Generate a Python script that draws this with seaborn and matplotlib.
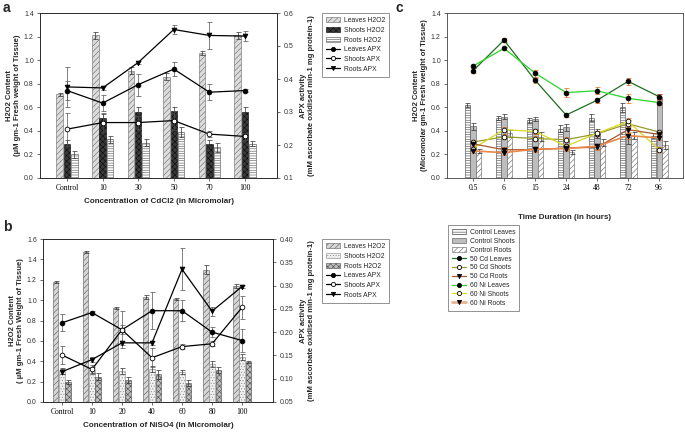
import numpy as np
import pandas as pd
import matplotlib
matplotlib.use("Agg")
import matplotlib.pyplot as plt
import seaborn as sns
from matplotlib.patches import Patch
from matplotlib.lines import Line2D

# ---------------- Panel a (CdCl2) ----------------
cats_a = ["Control", "10", "30", "50", "70", "100"]
a_leaves_h2o2 = [0.71, 1.21, 0.91, 0.86, 1.06, 1.21]
a_leaves_h2o2_err = [0.015, 0.03, 0.03, 0.03, 0.02, 0.03]
a_shoots_h2o2 = [0.29, 0.51, 0.56, 0.57, 0.29, 0.56]
a_shoots_h2o2_err = [0.03, 0.03, 0.04, 0.03, 0.03, 0.04]
a_roots_h2o2 = [0.20, 0.33, 0.30, 0.39, 0.26, 0.29]
a_roots_h2o2_err = [0.03, 0.03, 0.03, 0.04, 0.04, 0.02]
a_leaves_apx = [0.365, 0.327, 0.383, 0.43, 0.36, 0.365]
a_leaves_apx_err = [0.03, 0.025, 0.033, 0.022, 0.024, 0.005]
a_shoots_apx = [0.248, 0.268, 0.268, 0.274, 0.233, 0.226]
a_shoots_apx_err = [0.05, 0.03, 0.02, 0.03, 0.01, 0.01]
a_roots_apx = [0.376, 0.373, 0.45, 0.55, 0.532, 0.53]
a_roots_apx_err = [0.06, 0.005, 0.005, 0.015, 0.04, 0.015]

# ---------------- Panel b (NiSO4) ----------------
cats_b = ["Control", "10", "20", "40", "60", "80", "100"]
b_leaves_h2o2 = [1.18, 1.47, 0.92, 1.035, 1.01, 1.30, 1.14]
b_leaves_h2o2_err = [0.01, 0.01, 0.01, 0.02, 0.01, 0.04, 0.02]
b_shoots_h2o2 = [0.30, 0.31, 0.30, 0.32, 0.29, 0.37, 0.44]
b_shoots_h2o2_err = [0.03, 0.03, 0.03, 0.03, 0.02, 0.03, 0.03]
b_roots_h2o2 = [0.20, 0.25, 0.22, 0.27, 0.19, 0.31, 0.39]
b_roots_h2o2_err = [0.02, 0.03, 0.03, 0.04, 0.03, 0.03, 0.01]
b_leaves_apx = [0.22, 0.242, 0.205, 0.246, 0.246, 0.20, 0.182]
b_leaves_apx_err = [0.018, 0.003, 0.01, 0.04, 0.022, 0.01, 0.025]
b_shoots_apx = [0.151, 0.12, 0.205, 0.145, 0.169, 0.175, 0.253]
b_shoots_apx_err = [0.02, 0.01, 0.04, 0.02, 0.005, 0.005, 0.025]
b_roots_apx = [0.115, 0.141, 0.177, 0.177, 0.335, 0.245, 0.298]
b_roots_apx_err = [0.005, 0.005, 0.005, 0.005, 0.045, 0.01, 0.003]

# ---------------- Panel c (time course) ----------------
cats_c = ["0.5", "6", "15", "24", "48", "72", "96"]
c_ctrl_leaves = [0.62, 0.51, 0.49, 0.42, 0.51, 0.60, 0.36]
c_ctrl_leaves_err = [0.02, 0.02, 0.02, 0.03, 0.03, 0.04, 0.02]
c_ctrl_shoots = [0.44, 0.52, 0.50, 0.43, 0.38, 0.35, 0.69]
c_ctrl_shoots_err = [0.03, 0.02, 0.02, 0.03, 0.04, 0.06, 0.02]
c_ctrl_roots = [0.23, 0.38, 0.35, 0.22, 0.30, 0.36, 0.28]
c_ctrl_roots_err = [0.02, 0.03, 0.04, 0.02, 0.03, 0.03, 0.03]
c_cd_leaves = [0.91, 1.17, 0.83, 0.534, 0.66, 0.82, 0.69]
c_cd_shoots = [0.305, 0.35, 0.335, 0.325, 0.375, 0.46, 0.39]
c_cd_roots = [0.29, 0.24, 0.24, 0.255, 0.26, 0.41, 0.37]
c_ni_leaves = [0.95, 1.10, 0.89, 0.725, 0.74, 0.676, 0.64]
c_ni_shoots = [0.25, 0.41, 0.395, 0.27, 0.38, 0.48, 0.24]
c_ni_roots = [0.23, 0.215, 0.245, 0.25, 0.27, 0.36, 0.34]
c_cd_leaves_err = [0.02, 0.02, 0.02, 0.02, 0.02, 0.03, 0.02]
c_ni_leaves_err = [0.02, 0.01, 0.03, 0.035, 0.03, 0.04, 0.02]
c_small_err = [0.02, 0.02, 0.02, 0.02, 0.02, 0.03, 0.02]

sns.set_style("ticks")
plt.rcParams["font.family"] = ["Liberation Sans", "DejaVu Sans"]
plt.rcParams["hatch.linewidth"] = 0.4
plt.rcParams["axes.linewidth"] = 0.6

W, H = 685, 432
fig = plt.figure(figsize=(W / 100, H / 100), dpi=100)


def px_axes(l, t, r, b):
    return fig.add_axes([l / W, 1 - b / H, (r - l) / W, (b - t) / H])


def draw_bars(ax, cats, names, vals, errs, styles, width, gap):
    rows = []
    for n, v in zip(names, vals):
        for c, y in zip(cats, v):
            rows.append({"cat": c, "series": n, "val": y})
    df = pd.DataFrame(rows)
    sns.barplot(data=df, x="cat", y="val", hue="series", order=cats,
                hue_order=names, palette=[s["face"] for s in styles],
                width=width, gap=gap, errorbar=None, ax=ax, legend=False,
                saturation=1, linewidth=0.4, edgecolor="#404040")
    for cont, st, er in zip(ax.containers, styles, errs):
        xs, ys = [], []
        for bar in cont:
            bar.set_hatch(st["hatch"])
            bar.set_edgecolor(st["edge"])
            xs.append(bar.get_x() + bar.get_width() / 2)
            ys.append(bar.get_height())
        ax.errorbar(xs, ys, yerr=er, fmt="none", ecolor=st.get("ecolor", "#303030"),
                    elinewidth=0.5, capsize=1.8, capthick=0.5, zorder=3)


def draw_line(ax, vals, err, color, marker, mfc, ms=3.4, lw=0.9, ecolor="#505050"):
    xs = list(range(len(vals)))
    ax.errorbar(xs, vals, yerr=err, fmt="none", ecolor=ecolor, elinewidth=0.5,
                capsize=1.8, capthick=0.5, zorder=4)
    sns.lineplot(x=xs, y=vals, ax=ax, color=color, marker=marker, markersize=ms,
                 markerfacecolor=mfc, markeredgecolor="black", markeredgewidth=0.6,
                 linewidth=lw, errorbar=None, legend=False, zorder=5)


def style_axis(ax, xlabel, ylabel, labelpad_x=4):
    ax.set_xlabel(xlabel, fontsize=5.8, fontweight="bold", labelpad=labelpad_x)
    ax.set_ylabel(ylabel, fontsize=5.5, fontweight="bold", labelpad=2, linespacing=1.15)
    ax.tick_params(axis="both", labelsize=5, length=2.5, width=0.5, pad=2, colors="#333333")
    for t in ax.get_xticklabels():
        t.set_fontfamily("Liberation Serif")
        t.set_fontsize(5.5)
        t.set_color("black")
    for sp in ax.spines.values():
        sp.set_visible(True)
        sp.set_linewidth(0.6)
        sp.set_color("#404040")


apx_label = "APX activity\n(mM ascorbate oxidised min-1 mg protein-1)"

# ================= Panel a =================
axa = px_axes(40, 13, 277, 178)
styles_a = [dict(face="#dcdcdc", hatch="//////", edge="#6a6a6a"),
            dict(face="#3a3a3a", hatch="xxxxxx", edge="#0a0a0a"),
            dict(face="white", hatch="-------", edge="#505050")]
names_a = ["Leaves H2O2", "Shoots H2O2", "Roots H2O2"]
draw_bars(axa, cats_a, names_a, [a_leaves_h2o2, a_shoots_h2o2, a_roots_h2o2],
          [a_leaves_h2o2_err, a_shoots_h2o2_err, a_roots_h2o2_err], styles_a, 0.62, 0.12)
axa.set_xlim(-0.76, 5.9)
axa.set_ylim(0, 1.4)
axa.set_yticks(np.arange(0, 1.41, 0.2))
axa.set_yticklabels([f"{v:.1f}" for v in np.arange(0, 1.41, 0.2)])
style_axis(axa, "Concentration of CdCl2 (in Micromolar)",
           "H2O2 Content\n(µM gm-1 Fresh weight of Tissue)")
axa2 = axa.twinx()
draw_line(axa2, a_leaves_apx, a_leaves_apx_err, "black", "o", "black")
draw_line(axa2, a_shoots_apx, a_shoots_apx_err, "black", "o", "white")
draw_line(axa2, a_roots_apx, a_roots_apx_err, "black", "v", "black")
axa2.set_ylim(0.1, 0.6)
axa2.set_yticks(np.arange(0.1, 0.61, 0.1))
axa2.set_yticklabels([f"{v:.1f}" for v in np.arange(0.1, 0.61, 0.1)])
axa2.set_ylabel(apx_label, fontsize=5.5, fontweight="bold", labelpad=5, linespacing=1.15)
axa2.tick_params(axis="y", labelsize=5, length=2.5, width=0.5, pad=2, colors="#333333")
axa.set_xlim(-0.76, 5.9)

# ================= Panel b =================
axb = px_axes(43, 239, 273, 402)
styles_b = [dict(face="#d6d6d6", hatch="//////", edge="#5a5a5a"),
            dict(face="#f0f0f0", hatch="......", edge="#8a8a8a"),
            dict(face="#bdbdbd", hatch="xxxxxx", edge="#4a4a4a")]
names_b = ["Leaves H2O2", "Shoots H2O2", "Roots H2O2"]
draw_bars(axb, cats_b, names_b, [b_leaves_h2o2, b_shoots_h2o2, b_roots_h2o2],
          [b_leaves_h2o2_err, b_shoots_h2o2_err, b_roots_h2o2_err], styles_b, 0.63, 0.12)
axb.set_ylim(0, 1.6)
axb.set_yticks(np.arange(0, 1.61, 0.2))
axb.set_yticklabels([f"{v:.1f}" for v in np.arange(0, 1.61, 0.2)])
style_axis(axb, "Concentration of NiSO4 (in Micromolar)",
           "H2O2 Content\n( µM gm-1 Fresh Weight of Tissue)")
axb2 = axb.twinx()
draw_line(axb2, b_leaves_apx, b_leaves_apx_err, "black", "o", "black")
draw_line(axb2, b_shoots_apx, b_shoots_apx_err, "black", "o", "white")
draw_line(axb2, b_roots_apx, b_roots_apx_err, "black", "v", "black")
axb2.set_ylim(0.05, 0.40)
axb2.set_yticks(np.arange(0.05, 0.401, 0.05))
axb2.set_yticklabels([f"{v:.2f}" for v in np.arange(0.05, 0.401, 0.05)])
axb2.set_ylabel(apx_label, fontsize=5.5, fontweight="bold", labelpad=5, linespacing=1.15)
axb2.tick_params(axis="y", labelsize=5, length=2.5, width=0.5, pad=2, colors="#333333")
axb.set_xlim(-0.63, 7.03)

# ================= Panel c =================
axc = px_axes(447, 13, 683, 178)
styles_c = [dict(face="white", hatch="-------", edge="#404040"),
            dict(face="#bdbdbd", hatch="", edge="#505050"),
            dict(face="white", hatch="//////", edge="#606060")]
names_c = ["Control Leaves", "Control Shoots", "Control Roots"]
draw_bars(axc, cats_c, names_c, [c_ctrl_leaves, c_ctrl_shoots, c_ctrl_roots],
          [c_ctrl_leaves_err, c_ctrl_shoots_err, c_ctrl_roots_err], styles_c, 0.56, 0.1)
orange_err = "#e06a1a"
col_cd_leaves, col_cd_shoots, col_cd_roots = "#1f6e1f", "#9a9a2a", "#a8582a"
col_ni_leaves, col_ni_shoots, col_ni_roots = "#2bd42b", "#d8d81e", "#e8884a"
draw_line(axc, c_cd_shoots, c_small_err, col_cd_shoots, "o", "white", ecolor=orange_err)
draw_line(axc, c_ni_shoots, c_small_err, col_ni_shoots, "o", "white", ecolor=orange_err)
draw_line(axc, c_cd_roots, c_small_err, col_cd_roots, "v", "black", ecolor=orange_err)
draw_line(axc, c_ni_roots, c_small_err, col_ni_roots, "v", "black", lw=1.2, ecolor=orange_err)
draw_line(axc, c_cd_leaves, c_cd_leaves_err, col_cd_leaves, "o", "black", ecolor=orange_err)
draw_line(axc, c_ni_leaves, c_ni_leaves_err, col_ni_leaves, "o", "black", ecolor=orange_err)
axc.set_xlim(-0.84, 6.77)
axc.set_ylim(0, 1.4)
axc.set_yticks(np.arange(0, 1.41, 0.2))
axc.set_yticklabels([f"{v:.1f}" for v in np.arange(0, 1.41, 0.2)])
style_axis(axc, "Time Duration (in hours)",
           "H2O2 Content\n(Micromolar gm-1 Fresh weight of Tissue)", labelpad_x=16)

# ================= Legends =================
def bar_handle(st, label):
    return Patch(facecolor=st["face"], hatch=st["hatch"], edgecolor=st["edge"],
                 linewidth=0.4, label=label)


def line_handle(color, marker, mfc, label, lw=0.9):
    return Line2D([0], [0], color=color, marker=marker, markersize=3,
                  markerfacecolor=mfc, markeredgecolor="black", markeredgewidth=0.6,
                  linewidth=lw, label=label)


leg_kw = dict(loc="upper left", fontsize=4.9, frameon=True, fancybox=False,
              edgecolor="#808080", framealpha=1, borderpad=0.6,
              handlelength=2.1, handleheight=0.8, handletextpad=0.5,
              borderaxespad=0, bbox_transform=fig.transFigure)

ha = [bar_handle(s, n) for s, n in zip(styles_a, names_a)] + [
    line_handle("black", "o", "black", "Leaves APX"),
    line_handle("black", "o", "white", "Shoots APX"),
    line_handle("black", "v", "black", "Roots APX")]
la = fig.legend(handles=ha, bbox_to_anchor=(322 / W, 1 - 13 / H), labelspacing=0.4, **leg_kw)
la.get_frame().set_linewidth(0.6)

hb = [bar_handle(s, n) for s, n in zip(styles_b, names_b)] + [
    line_handle("black", "o", "black", "Leaves APX"),
    line_handle("black", "o", "white", "Shoots APX"),
    line_handle("black", "v", "black", "Roots APX")]
lb = fig.legend(handles=hb, bbox_to_anchor=(322 / W, 1 - 239 / H), labelspacing=0.4, **leg_kw)
lb.get_frame().set_linewidth(0.6)

hc = [bar_handle(s, n) for s, n in zip(styles_c, names_c)] + [
    line_handle(col_cd_leaves, "o", "black", "50 Cd Leaves"),
    line_handle(col_cd_shoots, "o", "white", "50 Cd Shoots"),
    line_handle(col_cd_roots, "v", "black", "50 Cd Roots"),
    line_handle(col_ni_leaves, "o", "black", "60 Ni Leaves"),
    line_handle(col_ni_shoots, "o", "white", "60 Ni Shoots"),
    line_handle("#e8b490", "v", "black", "60 Ni Roots", lw=2)]
lc = fig.legend(handles=hc, bbox_to_anchor=(448 / W, 1 - 225 / H), labelspacing=0.27, **leg_kw)
lc.get_frame().set_linewidth(0.6)

# Panel letters
fig.text(3 / W, 1 - 1 / H, "a", fontsize=10, fontweight="bold", va="top", ha="left")
fig.text(3 / W, 1 - 220 / H, "b", fontsize=10, fontweight="bold", va="top", ha="left")
fig.text(396 / W, 1 - 1 / H, "c", fontsize=10, fontweight="bold", va="top", ha="left")

fig.savefig("out.png", dpi=100, facecolor="white")
